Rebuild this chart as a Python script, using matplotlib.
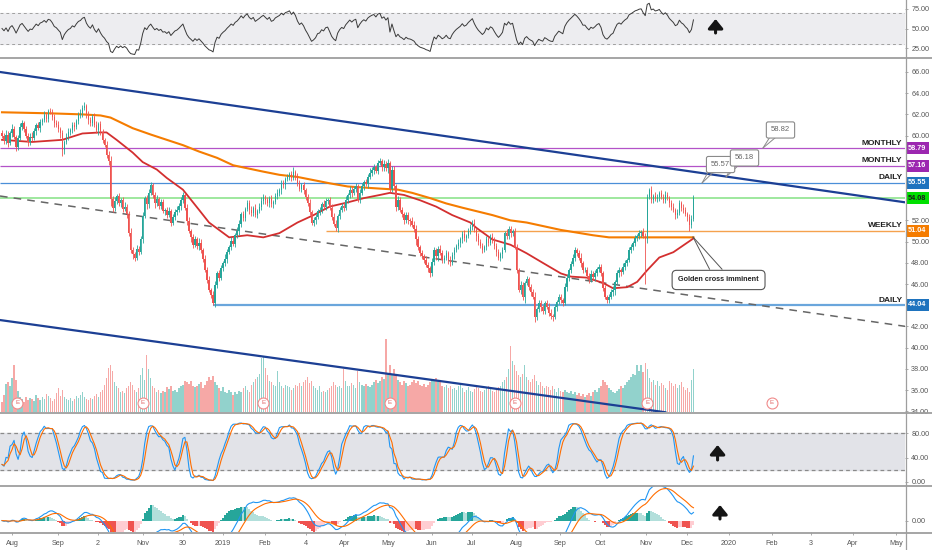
import numpy as np
import pandas as pd
import matplotlib
matplotlib.use('Agg')
import matplotlib.pyplot as plt
from matplotlib.lines import Line2D

plt.rcParams['font.family'] = ['Liberation Sans', 'DejaVu Sans']

# ---------------- data ----------------
closes = [
    60.0, 59.5, 60.1, 59.3, 60.2, 60.6, 59.9, 58.9, 59.8, 60.8, 61.2, 60.6, 60.0, 59.4, 59.9,
    59.8, 60.4, 61.0, 60.7, 61.3, 61.5, 61.9, 61.6, 62.3, 62.2, 61.8, 61.2, 61.0, 60.6, 60.2,
    58.6, 59.4, 59.9, 60.3, 60.5, 61.0, 60.8, 61.4, 61.9, 62.1, 62.6, 62.8, 62.0, 61.5, 61.2,
    61.8, 61.0, 60.5, 61.1, 60.3, 59.6, 59.1, 58.2, 57.6, 54.0, 53.2, 53.8, 54.3, 53.6, 53.9,
    53.1, 53.3, 52.6, 50.8, 49.2, 48.8, 48.5, 49.3, 49.0, 50.2, 52.4, 54.1, 53.5, 54.6, 55.3,
    54.4, 53.6, 54.0, 53.4, 53.7, 52.9, 53.0, 52.5, 52.9, 51.8, 52.3, 52.8, 53.0, 53.4, 53.9,
    54.4, 53.2, 51.9, 51.0, 50.4, 49.7, 50.2, 49.6, 49.9, 49.2, 48.4, 47.3, 46.4, 45.4, 45.0,
    44.2, 45.9, 47.0, 46.6, 47.5, 48.0, 48.4, 49.0, 49.5, 50.1, 49.8, 50.6, 51.0, 51.7, 52.6,
    52.2, 53.1, 53.6, 53.0, 52.7, 53.2, 52.5, 52.9, 53.3, 53.8, 54.2, 53.9, 53.6, 54.1, 53.5,
    53.7, 54.3, 54.6, 54.9, 55.5, 55.3, 55.9, 56.1, 56.4, 56.0, 56.6, 56.2, 55.5, 55.0, 55.3,
    54.9, 54.2, 53.6, 52.8, 51.8, 52.0, 52.3, 52.9, 53.0, 53.5, 53.3, 53.8, 53.9, 53.2, 52.3,
    51.7, 51.3, 52.4, 53.0, 53.4, 53.2, 53.9, 54.4, 54.9, 54.6, 55.0, 55.2, 53.9, 54.6, 55.2,
    55.6, 55.4, 56.1, 56.5, 56.8, 57.0, 56.7, 57.4, 57.6, 57.0, 57.3, 56.9, 57.4, 55.0, 56.8,
    55.2, 53.3, 53.9, 53.0, 52.6, 52.0, 52.5, 52.0, 51.9, 51.6, 51.2, 50.2, 49.5, 48.9, 48.6,
    48.3, 47.8, 47.5, 47.0, 48.1, 49.2, 48.6, 49.3, 48.9, 48.3, 48.5, 48.9, 48.2, 48.0, 48.7,
    49.2, 49.6, 49.9, 50.2, 50.7, 50.3, 50.5, 51.0, 51.4, 51.8, 51.1, 50.5, 50.0, 49.6, 49.2,
    49.5, 50.2, 49.9, 50.4, 50.2, 49.6, 49.0, 48.5, 48.8, 49.2, 50.8, 50.5, 51.2, 50.8, 51.0,
    49.5, 47.3, 45.4, 45.9, 44.8, 46.1, 46.5, 45.7, 45.2, 44.8, 42.9, 43.6, 44.2, 43.8, 43.5,
    44.2, 43.8, 43.3, 43.0, 42.9, 43.8, 44.3, 44.8, 44.5, 44.2, 45.7, 46.6, 47.3, 47.9, 48.5,
    49.2, 48.9, 48.5, 48.0, 47.3, 47.3, 46.8, 46.4, 46.9, 46.7, 47.0, 47.4, 47.6, 47.0, 45.6,
    44.8, 44.5, 44.8, 45.2, 45.4, 46.2, 47.0, 47.3, 47.1, 47.6, 48.0, 48.3, 49.2, 49.5, 49.9,
    50.3, 50.5, 50.8, 50.9, 50.5, 50.2, 54.2, 54.9, 53.9, 54.3, 54.0, 54.2, 54.6, 54.2, 53.9,
    54.4, 54.1, 53.6, 53.3, 53.0, 52.5, 52.7, 53.6, 53.2, 53.0, 52.6, 52.3, 51.6, 52.1, 54.08,
]
# upper / lower wick lengths in tenths of a dollar
wick_up = [
    3,2,4,3,2,5,3,2,3,4,3,2,3,2,3, 4,3,2,3,3,2,4,3,2,3,3,2,3,4,2,
    3,2,3,4,2,3,3,2,3,4,3,4,2,3,3, 2,3,4,2,3,3,2,4,3,5,3,4,2,3,2,
    3,4,2,3,5,3,2,4,3,3,4,2,3,4,3, 2,3,4,2,3,3,2,3,4,2,3,3,4,2,3,
    3,2,3,4,2,3,3,2,4,3,2,3,3,4,2, 3,4,2,3,3,2,4,3,2,3,3,2,4,3,2,
    3,2,3,3,4,2,3,2,3,4,3,2,3,2,3, 2,3,4,2,3,3,2,3,2,3,4,2,3,3,2,
    3,2,3,4,2,3,3,2,3,2,4,3,2,3,3, 4,3,2,3,2,3,4,2,3,3,2,3,2,4,3,
    2,3,3,4,2,3,2,3,3,2,4,3,4,2,3, 3,2,4,3,3,2,3,3,2,4,3,4,3,2,3,
    2,3,3,2,4,3,2,3,4,3,2,3,2,4,3, 3,2,3,2,3,4,2,3,3,2,3,2,3,2,3,
    2,3,2,3,4,2,3,3,2,3,2,4,3,3,2, 3,3,2,4,3,2,3,2,3,3,4,2,3,3,2,
    2,3,4,3,2,3,2,3,3,2,4,3,2,3,3, 3,2,3,4,2,3,3,2,4,3,3,2,3,3,2,
    3,2,3,3,4,2,3,3,2,4,3,2,3,3,2, 3,2,3,2,4,3,3,2,3,2,4,3,2,3,3,
    4,3,2,3,3,2,4,3,2,3,3,2,3,4,3,
]
wick_dn = [
    2,3,3,4,2,3,2,4,3,2,3,3,2,4,3, 3,2,3,2,4,3,2,3,3,2,3,4,2,3,4,
    5,3,2,3,2,3,4,2,3,2,3,2,3,4,3, 3,2,3,4,2,3,2,3,4,6,4,3,3,2,3,
    3,2,4,3,3,4,3,2,3,2,3,2,4,3,2, 3,4,2,3,3,2,4,3,2,3,2,3,3,2,4,
    3,2,3,2,4,3,2,3,4,3,3,2,3,2,3, 2,4,3,3,2,3,3,4,2,3,2,3,3,4,3,
    3,3,2,4,3,3,2,3,2,3,3,4,2,3,2, 3,2,3,3,4,2,3,2,3,3,2,4,3,2,3,
    4,3,2,3,2,3,3,2,4,3,2,3,3,2,3, 2,3,4,3,2,3,2,3,3,4,2,3,2,3,2,
    3,2,3,2,3,4,2,3,2,3,3,2,4,3,3, 2,4,3,2,3,3,2,3,4,2,3,5,3,3,2,
    3,2,4,3,2,3,3,4,2,3,3,2,3,3,2, 3,2,3,4,3,2,3,2,3,3,2,4,3,2,3,
    2,3,3,2,3,3,4,2,3,3,2,3,3,4,3, 2,3,2,3,3,6,2,3,3,2,5,3,2,3,3,
    3,2,3,3,4,2,3,2,3,3,2,4,3,3,2, 3,3,2,4,3,2,3,3,2,3,4,2,3,2,3,
    2,3,3,2,3,4,2,3,3,2,3,3,2,3,3, 3,2,3,4,2,42,3,2,3,3,2,3,4,2,3,
    3,2,3,3,2,4,3,2,3,3,2,4,6,3,2,
]
# volume, thousands of shares
volume = [
    240,400,660,700,600,800,1100,760,500,360,300,240,360,280,320,
    300,260,400,340,280,360,300,420,380,320,260,300,440,560,380,
    520,360,300,280,340,260,300,380,320,400,460,360,300,280,340,
    300,380,420,360,460,520,640,800,1040,1100,960,700,600,560,480,
    500,440,560,620,700,640,520,480,560,880,1040,760,1340,1000,800,
    600,560,480,520,440,500,460,580,540,620,500,520,460,560,600,
    640,740,700,660,740,620,580,600,660,700,560,640,720,820,760,
    840,700,640,560,500,580,480,440,520,460,400,480,420,500,460,
    560,600,520,480,640,700,780,820,900,1260,1300,1040,860,740,700,
    640,600,960,700,620,560,640,600,580,520,560,640,600,680,620,
    700,760,820,680,720,620,560,520,600,480,500,460,520,560,620,
    700,640,580,620,560,1000,740,620,600,680,640,560,960,700,640,
    600,660,620,580,640,700,760,680,740,820,780,1720,900,1100,860,
    1000,900,760,700,640,720,680,600,640,700,760,680,720,640,600,
    660,580,640,700,780,720,800,760,700,620,580,640,560,600,540,
    560,520,600,640,560,480,520,580,500,460,540,600,560,500,480,
    520,560,600,540,500,460,520,580,620,700,760,820,1000,1560,1200,
    1100,960,880,820,900,1100,820,760,700,780,860,720,640,700,600,
    560,620,580,520,600,540,480,560,500,460,520,480,440,500,420,
    460,400,440,380,420,360,400,440,380,460,520,480,560,600,760,
    700,640,560,520,480,440,500,540,600,560,640,700,760,820,900,
    860,1100,960,1100,940,1160,1000,800,700,760,640,720,600,680,640,
    560,520,740,680,600,660,560,640,700,580,520,560,480,760,1020,
]
ma50_i = [0, 15, 30, 40, 49, 52, 57, 65, 70, 77, 82, 90, 98, 103, 108, 113, 122, 130, 138, 147,
          155, 163, 172, 180, 188, 193, 200, 208, 216, 224, 233, 236, 244, 253, 261, 269, 278, 283,
          291, 299, 304, 311, 316, 321, 327, 334, 344]
ma50_v = [59.6, 59.4, 59.6, 60.2, 60.3, 60.3, 59.6, 58.4, 57.5, 56.8, 56.0, 54.9, 53.0, 51.8, 51.1,
          50.4, 50.6, 50.4, 50.8, 51.8, 52.5, 53.3, 53.7, 54.1, 54.4, 54.6, 54.4, 53.9, 53.3, 52.5,
          51.8, 51.3, 50.2, 49.7, 48.9, 48.0, 47.0, 46.7, 46.6, 46.1, 45.6, 45.7, 46.2, 47.3, 48.5,
          49.0, 50.3]
ma200_i = [0, 24, 40, 49, 54, 65, 74, 82, 90, 98, 107, 115, 130, 138, 147, 155, 163, 172, 180, 188,
           197, 204, 213, 221, 229, 244, 253, 261, 278, 294, 302, 319, 334, 344]
ma200_v = [62.2, 62.1, 62.0, 61.9, 61.7, 60.7, 60.1, 59.6, 59.1, 58.5, 57.9, 57.2, 56.6, 56.3, 56.1,
           55.8, 55.5, 55.2, 55.1, 55.0, 54.9, 54.6, 54.1, 53.6, 53.2, 52.5, 52.0, 51.8, 51.1, 50.6,
           50.4, 50.4, 50.4, 50.4]

tick_pos = [5.0, 27.9, 47.8, 70.1, 90.0, 110.0, 130.8, 151.2, 170.6, 192.0, 213.9, 233.8, 255.7,
            277.6, 297.5, 320.4, 340.8, 361.7, 383.1, 402.5, 423.4, 444.8]
tick_lbl = ['Aug', 'Sep', '2', 'Nov', '30', '2019', 'Feb', '4', 'Apr', 'May', 'Jun', 'Jul', 'Aug',
            'Sep', 'Oct', 'Nov', 'Dec', '2020', 'Feb', '3', 'Apr', 'May']
earnings_i = [7.5, 70, 130, 193, 255, 321, 383]

price_ticks = [34, 36, 38, 40, 42, 46, 48, 50, 52, 60, 62, 64, 66]
levels = [58.79, 57.16, 55.55, 54.08, 51.04, 44.04]
level_names = ['MONTHLY', 'MONTHLY', 'DAILY', '', 'WEEKLY', 'DAILY']
callouts = ['58.82', '56.18', '55.57']

# trend lines (two anchor points each: index, price)
upper_tl = ([-1, 449.5], [66.0, 53.7])
lower_tl = ([-1, 330], [42.6, 33.9])
dash_tl = ([-1, 449.5], [54.3, 42.0])

# ---------------- derived ----------------
c = np.array(closes)
n = len(c)
idx = np.arange(n)
o = np.r_[c[0] + 0.2, c[:-1]]
hi = np.maximum(o, c) + np.array(wick_up) / 10
lo = np.minimum(o, c) - np.array(wick_dn) / 10
up = c >= o

s = pd.Series(c)
d = s.diff().fillna(0).values
# Wilder RSI, seeded with the mean absolute move of the first 14 bars
seed = np.mean(np.abs(d[1:15])) / 2
ag, al = seed, seed
rsi = np.empty(n)
for k in range(n):
    ag = (ag * 13 + max(d[k], 0)) / 14
    al = (al * 13 + max(-d[k], 0)) / 14
    rsi[k] = 100 - 100 / (1 + ag / al)

hh = pd.Series(hi).rolling(14, min_periods=1).max()
ll = pd.Series(lo).rolling(14, min_periods=1).min()
raw = 100 * (s - ll) / (hh - ll)
stk = raw.rolling(3, min_periods=1).mean()
std = stk.rolling(3, min_periods=1).mean()

e12 = s.ewm(span=12, adjust=False).mean()
e26 = s.ewm(span=26, adjust=False).mean()
macd = e12 - e26
sig = macd.ewm(span=9, adjust=False).mean()
hist = (macd - sig).values

# ---------------- figure ----------------
W, H = 932, 550
fig = plt.figure(figsize=(W / 100, H / 100), dpi=100)
fig.patch.set_facecolor('white')


def box(x0, y0, w, h):
    return [x0 / W, 1 - (y0 + h) / H, w / W, h / H]


ax_rsi = fig.add_axes(box(0, 0, 905, 57))
ax = fig.add_axes(box(0, 59, 905, 353))
ax_st = fig.add_axes(box(0, 413, 905, 72))
ax_m = fig.add_axes(box(0, 486, 905, 46))
vax = ax.twinx()
XL = (-1.0, 449.25)
GRAY = '#555555'
TS = 5.2

for a in (ax_rsi, ax, ax_st, ax_m):
    a.set_xlim(*XL)
    for sp in a.spines.values():
        sp.set_visible(False)
    a.yaxis.tick_right()
    a.tick_params(axis='y', which='both', left=False, labelleft=False, right=True, labelright=True,
                  length=2.5, width=0.6, color='#9e9e9e', labelsize=TS, labelcolor=GRAY, pad=2)
    a.tick_params(axis='x', length=0)
    if a is not ax_m:
        a.set_xticks([])

# ---- RSI ----
ax_rsi.set_ylim(13.75, 86.25)
ax_rsi.axhspan(30, 70, color='#ededf0', zorder=0)
ax_rsi.axhline(70, color='#a0a0a0', lw=0.7, ls=(0, (3, 3)))
ax_rsi.axhline(30, color='#a0a0a0', lw=0.7, ls=(0, (3, 3)))
ax_rsi.plot(idx, rsi, color='#3a3a3a', lw=0.7)
ax_rsi.set_yticks([25, 50, 75])
ax_rsi.set_yticklabels(['25.00', '50.00', '75.00'])
ax_rsi.text(4, 1 - 12 / 57, 'RSI (14, close)', transform=ax_rsi.get_yaxis_transform(),
            fontsize=5.5, color=GRAY, va='center', ha='left')

# ---- main ----
ax.set_ylim(33.925, 67.226)
ax.set_yticks(price_ticks)
ax.set_yticklabels(['%.2f' % p for p in price_ticks])
vax.set_xlim(*XL)
vax.set_ylim(0, 8300)
vax.axis('off')
ax.set_zorder(vax.get_zorder() + 1)
ax.patch.set_visible(False)
vcol = np.where(up, '#92d2cc', '#f6a8a6')
vax.bar(idx, volume, width=0.7, color=vcol, linewidth=0)

# level lines
lvl_col = ['#b352c8', '#b352c8', '#4a8fd8', '#9ee89e', '#f5a24e', '#6aa6dc']
tag_col = ['#9c27b0', '#9c27b0', '#1e73be', '#00e000', '#f57c00', '#1e73be']
tag_txt = ['white', 'white', 'white', '#1a1a1a', 'white', 'white']
lvl_start = [XL[0], XL[0], XL[0], XL[0], 161, 105]
lvl_lw = [0.9, 0.9, 0.9, 1.4, 1.0, 1.6]
for p, nm, lc, tc, tt, x0, lw in zip(levels, level_names, lvl_col, tag_col, tag_txt, lvl_start, lvl_lw):
    ax.hlines(p, x0, XL[1], color=lc, lw=lw, zorder=2)
    ax.text(1.0035, p, '%.2f' % p, transform=ax.get_yaxis_transform(), ha='left', va='center',
            fontsize=TS, color=tt, fontweight='bold', zorder=20, clip_on=False,
            bbox=dict(boxstyle='square,pad=0.34', fc=tc, ec='none'))
    if nm:
        ax.text(0.997, p + 0.12, nm, transform=ax.get_yaxis_transform(), ha='right', va='bottom',
                fontsize=6.0, color='#222222', fontweight='bold', zorder=6)

# trend lines
ax.plot(*upper_tl, color='#1c3f94', lw=1.6, zorder=3)
ax.plot(*lower_tl, color='#1c3f94', lw=1.6, zorder=3)
ax.plot(*dash_tl, color='#666666', lw=1.1, ls=(0, (5, 4)), zorder=3)

# moving averages
ax.plot(ma200_i, ma200_v, color='#f57c00', lw=1.5, zorder=4)
ax.plot(ma50_i, ma50_v, color='#d32f2f', lw=1.3, zorder=4)

# candles
ccol = np.where(up, '#26a69a', '#ef5350')
ax.vlines(idx, lo, hi, color=ccol, lw=0.6, zorder=5)
body_b = np.minimum(o, c)
body_h = np.maximum(np.abs(c - o), 0.06)
ax.bar(idx, body_h, bottom=body_b, width=0.7, color=ccol, linewidth=0, zorder=5)

# earnings markers
ax.scatter(earnings_i, [0.026] * len(earnings_i), s=62, facecolor='white', edgecolor='#f08a8a',
           lw=0.8, transform=ax.get_xaxis_transform(), zorder=7, clip_on=False)
for e in earnings_i:
    ax.text(e, 0.026, 'E', transform=ax.get_xaxis_transform(), ha='center', va='center',
            fontsize=4.5, color='#e06666', zorder=8)

# titles
ax.text(4, 1 - 12 / 353, 'WESCO INTERNATIONAL INC, 1D, NYSE', transform=ax.get_yaxis_transform(),
        fontsize=5.4, color='#333333', fontweight='bold', va='center', ha='left', zorder=9)
for k, t in enumerate(['Vol (7)', 'MA (50, close)', 'MA (200, close)']):
    ax.text(4, 1 - (24 + 12 * k) / 353, t, transform=ax.get_yaxis_transform(),
            fontsize=5.5, color=GRAY, va='center', ha='left', zorder=9)

# callouts (box centre, tip)
call_box = [(387.3, 60.53), (369.4, 57.89), (357.5, 57.27)]
call_tip = [(378.6, 58.83), (360.2, 56.09), (348.3, 55.53)]
call_base = [((382.0, 59.85), (385.0, 59.85)), ((363.7, 57.25), (366.7, 57.25)),
             ((351.7, 56.70), (354.7, 56.70))]
for txt, bc, tp, bs in zip(callouts, call_box, call_tip, call_base):
    for b in bs:
        ax.plot([tp[0], b[0]], [tp[1], b[1]], color='#8a8a8a', lw=0.7, zorder=10)
for txt, bc in zip(callouts[::-1], call_box[::-1]):
    ax.text(bc[0], bc[1], txt, ha='center', va='center', fontsize=5.5, color='#666666', zorder=11,
            bbox=dict(boxstyle='round,pad=0.6,rounding_size=0.25', fc='white', ec='#8a8a8a', lw=0.8))

# golden cross callout
gc_tip = (343.8, 50.43)
for b in [(352.0, 47.4), (358.2, 47.4)]:
    ax.plot([gc_tip[0], b[0]], [gc_tip[1], b[1]], color='#555555', lw=0.7, zorder=10)
ax.text(356.5, 46.38, 'Golden cross imminent', ha='center', va='center', fontsize=5.2,
        fontweight='bold', color='#222222', zorder=11,
        bbox=dict(boxstyle='round,pad=0.85,rounding_size=0.6', fc='white', ec='#555555', lw=0.8))

# ---- Stoch ----
ax_st.set_ylim(-4.9, 112.7)
ax_st.axhspan(20, 80, color='#e2e3e8', zorder=0)
ax_st.axhline(80, color='#8a8a8a', lw=0.9, ls=(0, (3, 2.5)))
ax_st.axhline(20, color='#8a8a8a', lw=0.9, ls=(0, (3, 2.5)))
ax_st.plot(idx, stk, color='#2196f3', lw=0.8)
ax_st.plot(idx, std, color='#ff6d00', lw=0.8)
ax_st.set_yticks([0, 40, 80])
ax_st.set_yticklabels(['0.00', '40.00', '80.00'])
ax_st.text(4, 1 - 14 / 72, 'Stoch (14, 3, 3)', transform=ax_st.get_yaxis_transform(),
           fontsize=5.5, color=GRAY, va='center', ha='left')

# ---- MACD ----
T = float(np.nanmax(macd.values[120:160])) / 0.66
ax_m.set_ylim(-0.33 * T, T)
prev = np.r_[0, hist[:-1]]
hcol = np.where(hist >= 0, np.where(hist > prev, '#26a69a', '#b2dfdb'),
                np.where(hist < prev, '#ef5350', '#ffcdd2'))
ax_m.bar(idx, hist, width=1.0, color=hcol, linewidth=0)
ax_m.plot(idx, macd, color='#2196f3', lw=0.8)
ax_m.plot(idx, sig, color='#ff6d00', lw=0.8)
ax_m.set_yticks([0])
ax_m.set_yticklabels(['0.00'])
ax_m.text(4, 1 - 13 / 46, 'MACD (12, 26, close, 9)', transform=ax_m.get_yaxis_transform(),
          fontsize=5.5, color=GRAY, va='center', ha='left')
ax_m.set_xticks(tick_pos)
ax_m.set_xticklabels(tick_lbl)
ax_m.tick_params(axis='x', length=2, width=0.6, color='#9e9e9e', pad=4, labelsize=TS,
                 labelcolor=GRAY, direction='out')

# up arrows
arrow_kw = dict(arrowstyle='-|>,head_width=0.45,head_length=0.55', lw=2.2, color='#151515',
                shrinkA=0, shrinkB=0)
for a, yb, yt, xi in [(ax_rsi, 1 - 33 / 57, 1 - 19 / 57, 355.0),
                      (ax_st, (485 - 460) / 72, (485 - 445) / 72, 356.0),
                      (ax_m, (532 - 519) / 46, (532 - 505) / 46, 357.2)]:
    a.annotate('', xy=(xi, yt), xytext=(xi, yb), xycoords=a.get_xaxis_transform(),
               textcoords=a.get_xaxis_transform(), arrowprops=arrow_kw, zorder=12)

# separators
for y in [58.2, 412.5, 485.5, 532.5]:
    fig.add_artist(Line2D([0, 1], [1 - y / H, 1 - y / H], transform=fig.transFigure,
                          color='#9e9e9e', lw=1.3))
fig.add_artist(Line2D([905.5 / W, 905.5 / W], [0, 1], transform=fig.transFigure,
                      color='#9e9e9e', lw=0.9))

fig.savefig('out.png', dpi=100, facecolor='white')
